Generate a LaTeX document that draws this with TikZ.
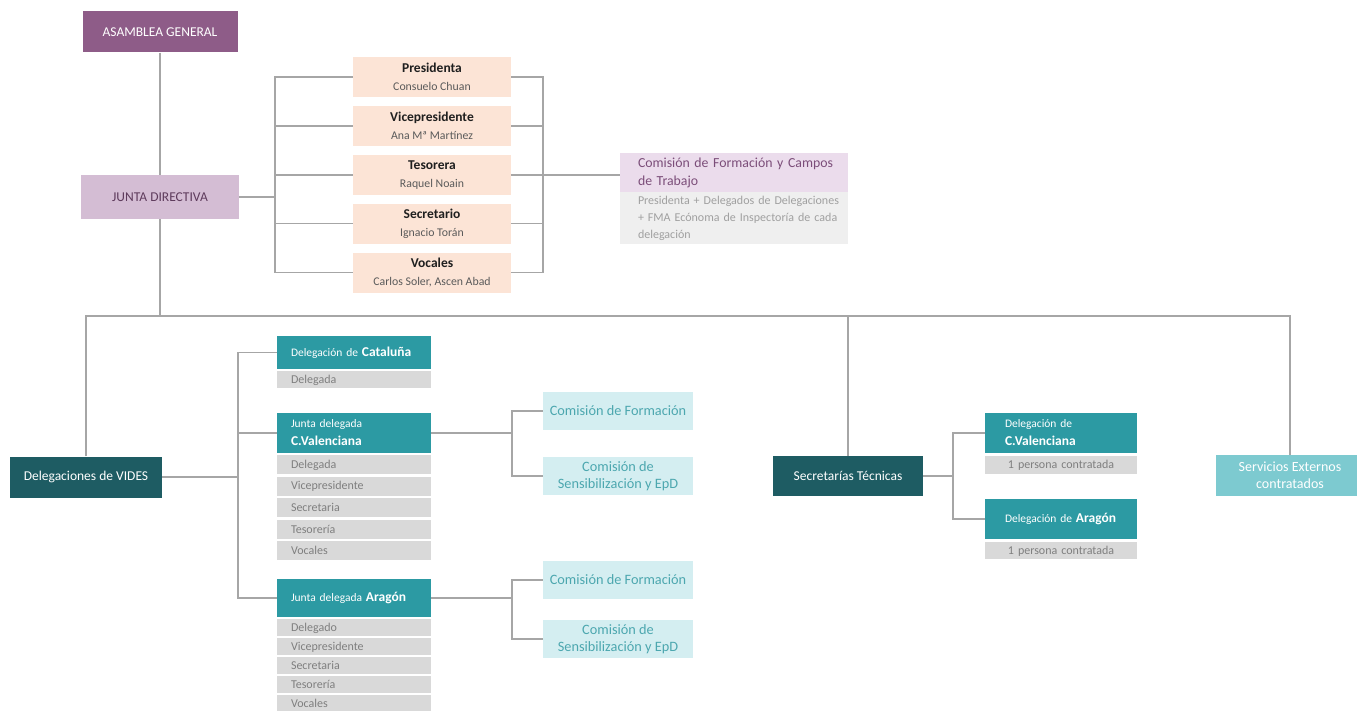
\documentclass[tikz,border=0pt]{standalone}
\usepackage{fontspec}
\setmainfont{Carlito}
\usetikzlibrary{positioning}

\definecolor{asamc}{HTML}{8E5C88}
\definecolor{juntac}{HTML}{D4BDD4}
\definecolor{juntat}{HTML}{5E3B5C}
\definecolor{offc}{HTML}{FCE4D6}
\definecolor{offt}{HTML}{1F1F1F}
\definecolor{offn}{HTML}{5A5A5A}
\definecolor{comhc}{HTML}{EBDCEC}
\definecolor{comht}{HTML}{7B4D79}
\definecolor{combc}{HTML}{EFEFEF}
\definecolor{combt}{HTML}{A0A0A0}
\definecolor{darkt}{HTML}{1E5C63}
\definecolor{tealc}{HTML}{2C9AA3}
\definecolor{rowc}{HTML}{D9D9D9}
\definecolor{rowt}{HTML}{7F7F7F}
\definecolor{ligc}{HTML}{D4EEF1}
\definecolor{ligt}{HTML}{4CA7AF}
\definecolor{servc}{HTML}{7DCAD0}
\definecolor{linec}{HTML}{A6A6A6}

\newcommand{\hb}[1]{{\fontsize{13.5}{18}\selectfont\bfseries #1}}

\tikzset{
  box/.style={inner sep=0pt, minimum height=40pt, align=center},
  asam/.style={box, fill=asamc, text=white, minimum width=155pt, minimum height=41pt, font=\fontsize{13.5}{16}\selectfont},
  jdir/.style={box, fill=juntac, text=juntat, minimum width=158pt, minimum height=44pt, font=\fontsize{13.5}{16}\selectfont},
  officer/.style={box, fill=offc, text=offt, minimum width=158pt, font=\fontsize{11.8}{18}\selectfont},
  comhead/.style={box, fill=comhc, text=comht, align=left, text width=192pt, inner xsep=18pt, minimum height=39pt, font=\fontsize{13.8}{18}\selectfont},
  combody/.style={box, fill=combc, text=combt, align=left, text width=192pt, inner xsep=18pt, minimum height=52pt, font=\fontsize{12}{17}\selectfont},
  dark/.style={box, fill=darkt, text=white, minimum width=152pt, minimum height=41pt, font=\fontsize{13.5}{16}\selectfont},
  tealhead/.style={box, fill=tealc, text=white, align=left, text width=126pt, inner xsep=14pt, font=\fontsize{11.5}{18}\selectfont},
  row/.style={box, fill=rowc, text=rowt, align=left, text width=126pt, inner xsep=14pt, minimum height=19pt, font=\fontsize{12}{13}\selectfont},
  light/.style={box, fill=ligc, text=ligt, minimum width=150pt, minimum height=38pt, font=\fontsize{14.3}{17}\selectfont},
  conn/.style={draw=linec, line width=1.5pt}
}

\begin{document}
\begin{tikzpicture}[x=1pt, y=-1pt]
  \fill[white] (0,0) rectangle (1357,711);
  \useasboundingbox (0,0) rectangle (1357,711);

  % upper part
  \node[asam] (asam) at (160,32) {ASAMBLEA GENERAL};
  \node[jdir] (junta) at (160,197) {JUNTA DIRECTIVA};

  \node[officer] (pres) at (432,77) {\hb{Presidenta}\\{\color{offn}Consuelo Chuan}};
  \node[officer, below=8.5pt of pres] (vice) {\hb{Vicepresidente}\\{\color{offn}Ana Mª Martínez}};
  \node[officer, below=8.5pt of vice] (teso) {\hb{Tesorera}\\{\color{offn}Raquel Noain}};
  \node[officer, below=8.5pt of teso] (secr) {\hb{Secretario}\\{\color{offn}Ignacio Torán}};
  \node[officer, below=8.5pt of secr] (voca) {\hb{Vocales}\\{\color{offn}Carlos Soler, Ascen Abad}};

  \node[comhead] (comf) at (734,172.5) {\mbox{Comisión de Formación y Campos}\\de Trabajo};
  \node[combody, below=0pt of comf] (comfb) {\mbox{Presidenta + Delegados de Delegaciones}\\\mbox{+ FMA Ecónoma de Inspectoría de cada}\\delegación};

  % lower part
  \node[dark] (vides) at (86,477) {Delegaciones de VIDES};

  \node[tealhead, minimum height=33pt] (cath) at (354,352.5) {Delegación de \hb{Cataluña}};
  \node[row, minimum height=17pt, below=2pt of cath] (cat1) {Delegada};

  \node[tealhead] (cvh) at (354,433) {Junta delegada\\\hb{C.Valenciana}};
  \node[row, below=2pt of cvh] (cv1) {Delegada};
  \node[row, below=2pt of cv1] (cv2) {Vicepresidente};
  \node[row, below=2pt of cv2] (cv3) {Secretaria};
  \node[row, below=2pt of cv3] (cv4) {Tesorería};
  \node[row, below=2pt of cv4] (cv5) {Vocales};

  \node[tealhead, minimum height=38pt] (arh) at (354,598) {Junta delegada \hb{Aragón}};
  \node[row, minimum height=17pt, below=2pt of arh] (ar1) {Delegado};
  \node[row, minimum height=17pt, below=1.5pt of ar1] (ar2) {Vicepresidente};
  \node[row, minimum height=17pt, below=1.5pt of ar2] (ar3) {Secretaria};
  \node[row, minimum height=17pt, below=1.5pt of ar3] (ar4) {Tesorería};
  \node[row, minimum height=17pt, below=1.5pt of ar4] (ar5) {Vocales};

  \node[light] (cvf) at (618,411) {Comisión de Formación};
  \node[light] (cvs) at (618,476) {Comisión de\\Sensibilización y EpD};
  \node[light] (arf) at (618,580) {Comisión de Formación};
  \node[light] (ars) at (618,639) {Comisión de\\Sensibilización y EpD};

  \node[dark, minimum width=150pt, minimum height=40pt] (sect) at (848,476) {Secretarías Técnicas};
  \node[tealhead, text width=112pt, inner xsep=20pt] (scvh) at (1061,433) {Delegación de\\\hb{C.Valenciana}};
  \node[row, align=center, text width=112pt, inner xsep=20pt, minimum height=18pt, below=3pt of scvh] (scv1) {1 persona contratada};
  \node[tealhead, text width=112pt, inner xsep=20pt] (sarh) at (1061,519) {Delegación de \hb{Aragón}};
  \node[row, align=center, text width=112pt, inner xsep=20pt, minimum height=17pt, below=3pt of sarh] (sar1) {1 persona contratada};

  \node[box, fill=servc, text=white, minimum width=148pt, minimum height=41pt, font=\fontsize{14}{17}\selectfont] (serv) at (1290,475.5) {Servicios Externos\\contratados};

  % connectors
  \coordinate (offl) at (275,0);
  \coordinate (offr) at (543,0);
  \coordinate (bus) at (0,316);
  \coordinate (vb) at (238,0);
  \coordinate (cb) at (512,0);
  \coordinate (sb) at (953,0);

  \draw[conn] (asam) -- (junta);
  \draw[conn] (junta.east) -- (junta.east -| offl);
  \draw[conn] (pres.west) -- (pres.west -| offl) -- (voca.west -| offl) -- (voca.west);
  \draw[conn] (vice.west) -- (vice.west -| offl);
  \draw[conn] (teso.west) -- (teso.west -| offl);
  \draw[conn] (secr.west) -- (secr.west -| offl);
  \draw[conn] (pres.east) -- (pres.east -| offr) -- (voca.east -| offr) -- (voca.east);
  \draw[conn] (vice.east) -- (vice.east -| offr);
  \draw[conn] (secr.east) -- (secr.east -| offr);
  \draw[conn] (teso.east) -- (teso.east -| comf.west);

  \draw[conn] (junta.south) -- (junta.south |- bus);
  \draw[conn] (vides.north) -- (vides.north |- bus) -| (serv.north);
  \draw[conn] (sect.north) -- (sect.north |- bus);

  \draw[conn] (vides.east) -- (vides.east -| vb);
  \draw[conn] (cath.west) -- (cath.west -| vb) -- (arh.west -| vb) -- (arh.west);
  \draw[conn] (cvh.west) -- (cvh.west -| vb);

  \draw[conn] (cvh.east) -- (cvh.east -| cb);
  \draw[conn] (cvf.west) -- (cvf.west -| cb) -- (cvs.west -| cb) -- (cvs.west);
  \draw[conn] (arh.east) -- (arh.east -| cb);
  \draw[conn] (arf.west) -- (arf.west -| cb) -- (ars.west -| cb) -- (ars.west);

  \draw[conn] (sect.east) -- (sect.east -| sb);
  \draw[conn] (scvh.west) -- (scvh.west -| sb) -- (sarh.west -| sb) -- (sarh.west);
\end{tikzpicture}
\end{document}
